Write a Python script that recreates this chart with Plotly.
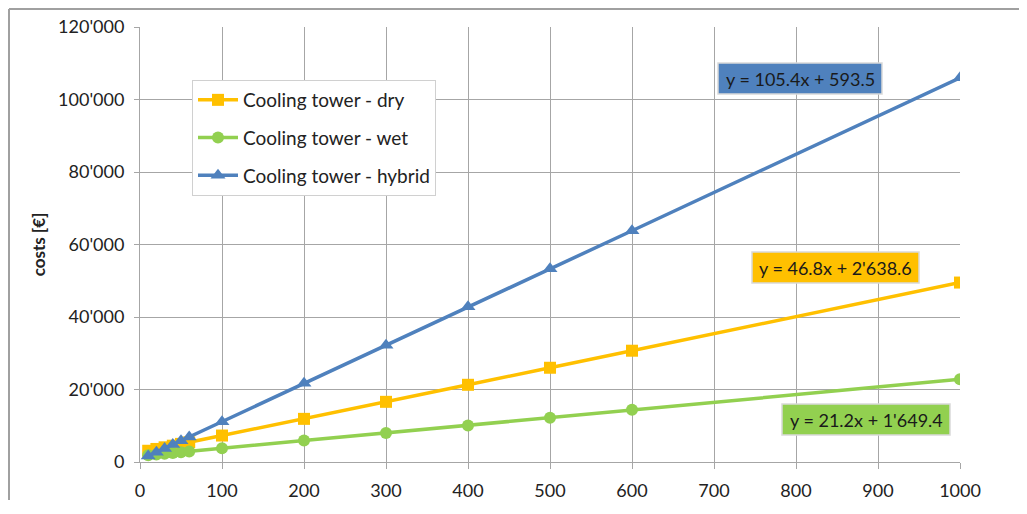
import plotly.graph_objects as go

x_vals = [10, 20, 30, 40, 50, 60, 100, 200, 300, 400, 500, 600, 1000]
dry = [3100, 3600, 4050, 4500, 5000, 5450, 7300, 11900, 16600, 21300, 26000, 30700, 49500]
wet = [1850, 2050, 2300, 2500, 2700, 2900, 3800, 5900, 8000, 10100, 12200, 14400, 22800]
hybrid = [1650, 2700, 3750, 4800, 5850, 6900, 11100, 21700, 32200, 42800, 53300, 63800, 106000]

series_names = ["Cooling tower - dry", "Cooling tower - wet", "Cooling tower - hybrid"]
series_colors = ["#FFC000", "#92D050", "#4F81BD"]
series_symbols = ["square", "circle", "triangle-up"]

y_ticks = [0, 20000, 40000, 60000, 80000, 100000, 120000]
y_ticktext = ["0", "20'000", "40'000", "60'000", "80'000", "100'000", "120'000"]
x_ticks = [0, 100, 200, 300, 400, 500, 600, 700, 800, 900, 1000]

eq_texts = ["y = 46.8x + 2'638.6", "y = 21.2x + 1'649.4", "y = 105.4x + 593.5"]

FONT = "Lato, 'Noto Sans', sans-serif"
OFF = 8  # browser body margin
W, H = 1027 - 2 * OFF, 514 - 2 * OFF

fig = go.Figure()
for i, (name, ys, col, sym) in enumerate(zip(series_names, [dry, wet, hybrid], series_colors, series_symbols)):
    fig.add_trace(go.Scatter(
        x=x_vals, y=ys, name=name, mode="lines+markers", legendgroup="g%d" % i,
        line=dict(color=col, width=3.5),
        marker=dict(color=col, symbol=sym, size={"square": 12, "circle": 12, "triangle-up": 13}[sym]),
    ))

# plot area in page pixels: x 140..960, y 27..462
PL, PR, PT, PB = 140 - OFF, 960 - OFF, 27 - OFF, 462 - OFF
def px(x):
    return (x - OFF - PL) / (PR - PL)
def py(y):
    return (PB - (y - OFF)) / (PB - PT)

# equation boxes (page pixel positions)
boxes = [
    (752, 919, 252, 283, "#FFC000"),
    (782, 950, 404, 435, "#92D050"),
    (718, 882, 63, 94, "#4F81BD"),
]
for (x0, x1, y0, y1, c), t in zip(boxes, eq_texts):
    fig.add_shape(type="rect", xref="paper", yref="paper",
                  x0=px(x0), x1=px(x1), y0=py(y1), y1=py(y0),
                  fillcolor=c, line=dict(color="#D9D9D9", width=1.5), layer="above")
    fig.add_annotation(xref="paper", yref="paper", x=px((x0 + x1) / 2), y=py((y0 + y1) / 2),
                       text=t, showarrow=False, font=dict(family=FONT, size=18, color="#1a1a1a"),
                       xanchor="center", yanchor="middle")

# outer frame lines
fig.add_shape(type="line", xref="paper", yref="paper", x0=px(9), x1=px(1040), y0=py(9), y1=py(9),
              line=dict(color="#A0A0A0", width=2))
fig.add_shape(type="line", xref="paper", yref="paper", x0=px(9), x1=px(9), y0=py(9), y1=py(500),
              line=dict(color="#A0A0A0", width=2))

fig.update_layout(
    width=W, height=H,
    margin=dict(l=PL, r=W - PR, t=PT, b=H - PB, autoexpand=False),
    paper_bgcolor="white", plot_bgcolor="white",
    font=dict(family=FONT, size=18, color="#222222"),
    showlegend=True,
    legend=dict(
        x=px(192), y=py(80), xanchor="left", yanchor="top",
        bgcolor="white", bordercolor="#D0D0D0", borderwidth=1,
        font=dict(family=FONT, size=19, color="#222222"),
        tracegroupgap=10, itemwidth=40,
    ),
    xaxis=dict(
        range=[0, 1000], tickvals=x_ticks, showgrid=True, gridcolor="#A6A6A6", gridwidth=1,
        showline=True, linecolor="#A6A6A6", linewidth=1, ticks="outside", ticklen=6,
        tickcolor="#A6A6A6", zeroline=False, tickfont=dict(size=18), ticklabelstandoff=6,
        automargin=False,
    ),
    yaxis=dict(
        range=[0, 120000], tickvals=y_ticks, ticktext=y_ticktext, showgrid=True,
        gridcolor="#A6A6A6", gridwidth=1, showline=True, linecolor="#A6A6A6", linewidth=1,
        ticks="outside", ticklen=5, tickcolor="#A6A6A6", zeroline=False,
        tickfont=dict(size=18), ticklabelstandoff=6, automargin=False,
        title=dict(text="<b>costs [€]</b>", font=dict(size=17), standoff=8),
    ),
)

fig.write_html("out.html")
